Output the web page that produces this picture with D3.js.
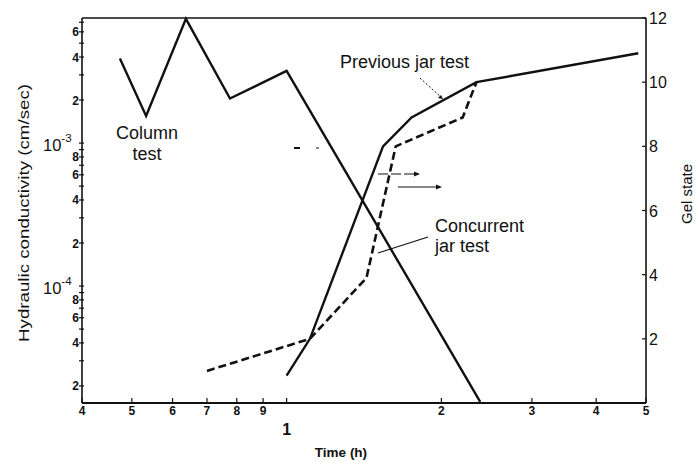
<!DOCTYPE html>
<html>
<head>
<meta charset="utf-8">
<script src="https://cdn.jsdelivr.net/npm/d3@7"></script>
<style>
  html, body { margin: 0; padding: 0; background: #fff; }
  svg { display: block; }
  text { font-family: "Liberation Sans", Arial, Helvetica, sans-serif; fill: #111; }
</style>
</head>
<body>
<svg id="chart" width="700" height="463"></svg>
<script>
// ---- data ----
const columnTime = [0.474, 0.533, 0.637, 0.776, 1.0, 2.38];
const columnK    = [3.9e-3, 1.55e-3, 7.4e-3, 2.05e-3, 3.2e-3, 1.55e-5];

const prevTime = [1.0, 1.11, 1.54, 1.75, 2.34, 4.83];
const prevGel  = [0.85, 2.0, 8.0, 8.9, 10.0, 10.9];

const concTime = [0.70, 1.11, 1.43, 1.63, 2.2, 2.34];
const concGel  = [1.0, 2.0, 3.9, 8.0, 8.9, 10.0];

const xTickValues = [0.4, 0.5, 0.6, 0.7, 0.8, 0.9, 1, 2, 3, 4, 5];
const xTickLabels = ["4", "5", "6", "7", "8", "9", "1", "2", "3", "4", "5"];
const gelTicks = [2, 4, 6, 8, 10, 12];

// ---- layout ----
const svg = d3.select("#chart");
const L = 82, R = 646, T = 18, B = 403;

const x = d3.scaleLog().domain([0.4, 5]).range([L, R]);
const yK = d3.scaleLog().domain([1.52e-5, 7.5e-3]).range([B, T]);
const yG = d3.scaleLinear().domain([0, 12]).range([B, T]);

const ink = "#111";

// frame: left, bottom, top, right
svg.append("line").attr("x1", L).attr("x2", L).attr("y1", T).attr("y2", B).attr("stroke", ink).attr("stroke-width", 1.6);
svg.append("line").attr("x1", L).attr("x2", R).attr("y1", B).attr("y2", B).attr("stroke", ink).attr("stroke-width", 2);
svg.append("line").attr("x1", L).attr("x2", R).attr("y1", T).attr("y2", T).attr("stroke", ink).attr("stroke-width", 1.4);
svg.append("line").attr("x1", R).attr("x2", R).attr("y1", T).attr("y2", B).attr("stroke", ink).attr("stroke-width", 1.6);

// ---- left log axis ----
const kTicks = [];
for (let e = -5; e <= -3; e++) {
  for (let m = 1; m <= 9; m++) {
    const v = m * Math.pow(10, e);
    if (v >= 1.52e-5 && v <= 7.5e-3) kTicks.push({ v, m, e });
  }
}
const lg = svg.append("g");
lg.selectAll("line").data(kTicks).join("line")
  .attr("x1", L - 3).attr("x2", L + 2)
  .attr("y1", d => yK(d.v)).attr("y2", d => yK(d.v))
  .attr("stroke", ink).attr("stroke-width", 1.2);
kTicks.filter(d => [2, 4, 6, 8].includes(d.m)).forEach(d => {
  lg.append("text").attr("x", L - 3).attr("y", yK(d.v) + 4.5)
    .attr("text-anchor", "end").attr("font-size", 12).attr("font-weight", "bold")
    .text(d.m);
});
kTicks.filter(d => d.m === 1).forEach(d => {
  const t = lg.append("text").attr("x", 43).attr("y", yK(d.v) + 8)
    .attr("font-size", 16.5);
  t.append("tspan").text("10");
  t.append("tspan").attr("dy", -9).attr("font-size", 11.5).text("-" + (-d.e));
});

// ---- bottom axis ----
const bg = svg.append("g");
bg.selectAll("line").data(xTickValues).join("line")
  .attr("x1", d => x(d)).attr("x2", d => x(d))
  .attr("y1", B).attr("y2", B - 5)
  .attr("stroke", ink).attr("stroke-width", 1.2);
bg.selectAll("text").data(xTickValues).join("text")
  .attr("x", d => x(d)).attr("y", d => d === 1 ? 435 : 415)
  .attr("text-anchor", "middle")
  .attr("font-size", d => d === 1 ? 16 : 12)
  .attr("font-weight", "bold")
  .text((d, i) => xTickLabels[i]);

// ---- right axis ----
const rg = svg.append("g");
rg.selectAll("line").data(gelTicks).join("line")
  .attr("x1", R - 4).attr("x2", R)
  .attr("y1", d => yG(d)).attr("y2", d => yG(d))
  .attr("stroke", ink).attr("stroke-width", 1.2);
rg.selectAll("text").data(gelTicks).join("text")
  .attr("x", R + 3).attr("y", d => yG(d) + 6)
  .attr("font-size", 16)
  .text(d => d);

// ---- axis titles ----
svg.append("text").attr("transform", "translate(29,213) rotate(-90)")
  .attr("text-anchor", "middle").attr("font-size", 15)
  .attr("textLength", 258).attr("lengthAdjust", "spacingAndGlyphs")
  .text("Hydraulic conductivity (cm/sec)");
svg.append("text").attr("transform", "translate(692,194) rotate(-90)")
  .attr("text-anchor", "middle").attr("font-size", 15)
  .attr("textLength", 60).attr("lengthAdjust", "spacingAndGlyphs")
  .text("Gel state");
svg.append("text").attr("x", 341).attr("y", 457)
  .attr("text-anchor", "middle").attr("font-size", 13.5).attr("font-weight", "bold")
  .text("Time (h)");

// ---- series ----
const lineK = d3.line().x(d => x(d[0])).y(d => yK(d[1]));
const lineG = d3.line().x(d => x(d[0])).y(d => yG(d[1]));

svg.append("path").datum(d3.zip(columnTime, columnK))
  .attr("d", lineK).attr("fill", "none").attr("stroke", ink)
  .attr("stroke-width", 2.4).attr("stroke-linejoin", "miter");

svg.append("path").datum(d3.zip(concTime, concGel))
  .attr("d", lineG).attr("fill", "none").attr("stroke", ink)
  .attr("stroke-width", 2.6).attr("stroke-dasharray", "8,4");

svg.append("path").datum(d3.zip(prevTime, prevGel))
  .attr("d", lineG).attr("fill", "none").attr("stroke", ink)
  .attr("stroke-width", 2.4).attr("stroke-linejoin", "miter");

// ---- annotations ----
const ann = svg.append("g").attr("font-size", 18);
ann.append("text").attr("x", 147).attr("y", 139).attr("text-anchor", "middle").text("Column");
ann.append("text").attr("x", 147).attr("y", 160).attr("text-anchor", "middle").text("test");
ann.append("text").attr("x", 340).attr("y", 68).text("Previous jar test");
ann.append("text").attr("x", 435).attr("y", 232).text("Concurrent");
ann.append("text").attr("x", 435).attr("y", 252).text("jar test");

// leader lines
svg.append("line").attr("x1", 420).attr("y1", 78).attr("x2", 443).attr("y2", 99)
  .attr("stroke", ink).attr("stroke-width", 1).attr("stroke-dasharray", "2,2");
svg.append("path").attr("d", "M443,99 l-5,-1 l3,-3 z").attr("fill", ink);
svg.append("line").attr("x1", 428).attr("y1", 237).attr("x2", 378).attr("y2", 253)
  .attr("stroke", ink).attr("stroke-width", 1.2);

// axis-indicator arrows
svg.append("line").attr("x1", 294).attr("y1", 148).attr("x2", 300).attr("y2", 148).attr("stroke", ink).attr("stroke-width", 2);
svg.append("line").attr("x1", 316).attr("y1", 148).attr("x2", 319).attr("y2", 148).attr("stroke", ink).attr("stroke-width", 1);
svg.append("line").attr("x1", 378).attr("y1", 174).attr("x2", 415).attr("y2", 174).attr("stroke", ink).attr("stroke-width", 1.2).attr("stroke-dasharray", "10,3");
svg.append("path").attr("d", "M420,174 l-6,-2.5 l0,5 z").attr("fill", ink);
svg.append("line").attr("x1", 398).attr("y1", 187).attr("x2", 437).attr("y2", 187).attr("stroke", ink).attr("stroke-width", 1.2);
svg.append("path").attr("d", "M442,187 l-6,-2.5 l0,5 z").attr("fill", ink);
</script>
</body>
</html>
